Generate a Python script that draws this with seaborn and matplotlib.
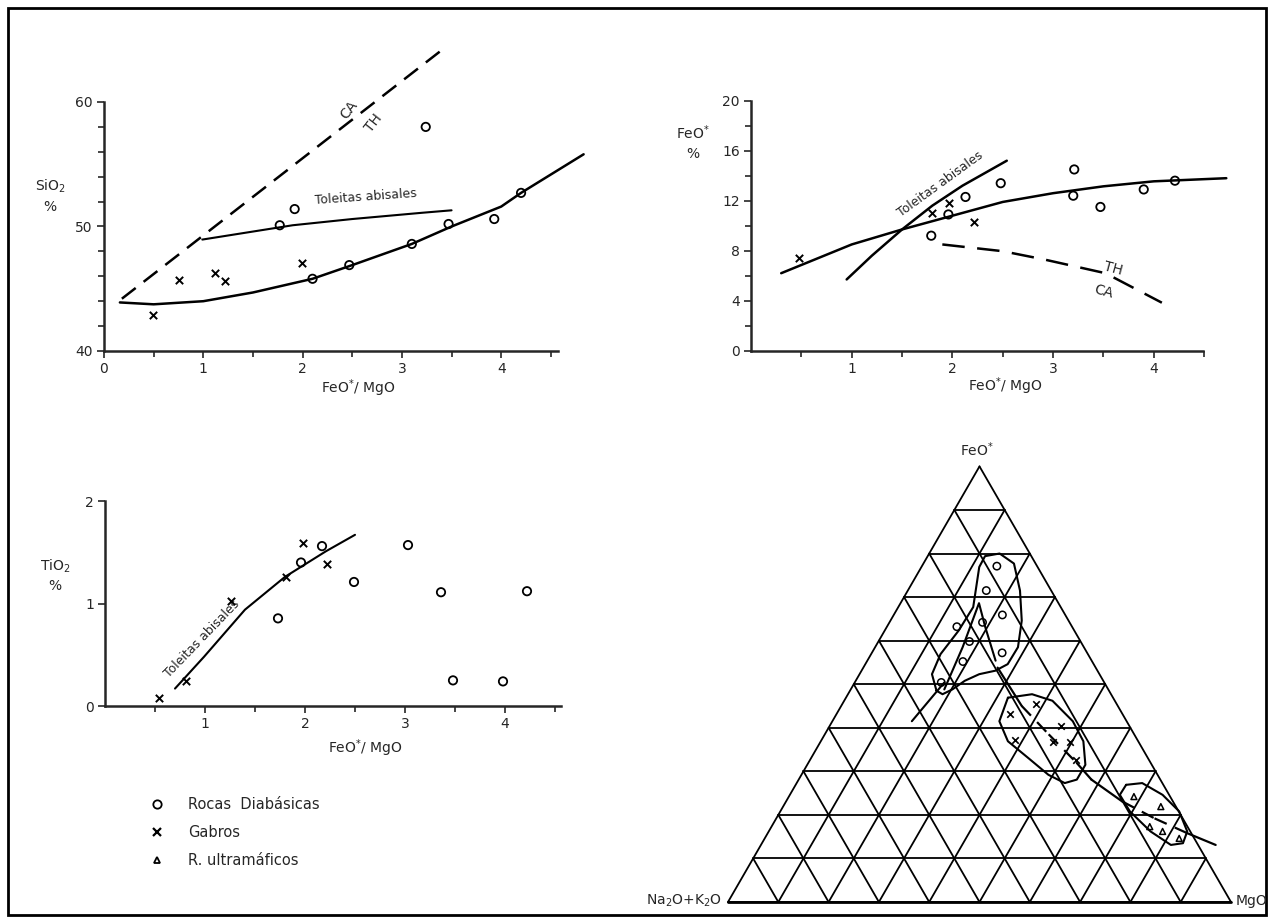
import numpy as np
import matplotlib
matplotlib.use("Agg")
import matplotlib.pyplot as plt
from matplotlib.lines import Line2D
from matplotlib.patches import Rectangle
import seaborn as sns

# ---------------- data ----------------
# SiO2 vs FeO*/MgO
si_circ_x = [1.77, 1.92, 2.10, 2.47, 3.10, 3.24, 3.47, 3.93, 4.20]
si_circ_y = [50.1, 51.4, 45.8, 46.9, 48.6, 58.0, 50.2, 50.6, 52.7]
si_cross_x = [0.49, 0.76, 1.12, 1.22, 1.99]
si_cross_y = [42.9, 45.7, 46.3, 45.6, 47.1]
si_trend_x = [0.16, 0.5, 1.0, 1.5, 2.1, 2.5, 3.1, 3.5, 4.0, 4.2, 4.83]
si_trend_y = [43.9, 43.75, 44.0, 44.7, 45.8, 46.9, 48.6, 50.0, 51.6, 52.7, 55.8]
si_tol_x = [0.99, 1.9, 2.5, 3.2, 3.5]
si_tol_y = [48.95, 50.1, 50.6, 51.1, 51.3]
si_cath_x = [0.18, 3.39]
si_cath_y = [44.2, 64.1]

# FeO* vs FeO*/MgO
fe_circ_x = [1.79, 1.96, 2.13, 2.48, 3.21, 3.20, 3.47, 3.90, 4.21]
fe_circ_y = [9.2, 10.9, 12.3, 13.4, 14.5, 12.4, 11.5, 12.9, 13.6]
fe_cross_x = [0.48, 1.80, 1.97, 2.21]
fe_cross_y = [7.4, 11.05, 11.85, 10.3]
fe_trend_x = [0.30, 1.0, 1.5, 2.0, 2.5, 3.0, 3.5, 4.0, 4.72]
fe_trend_y = [6.2, 8.5, 9.7, 10.8, 11.9, 12.6, 13.15, 13.55, 13.8]
fe_tol_x = [0.95, 1.2, 1.5, 1.8, 2.1, 2.54]
fe_tol_y = [5.7, 7.6, 9.7, 11.6, 13.2, 15.2]
fe_cath_x = [1.9, 2.5, 2.91, 3.52, 4.08]
fe_cath_y = [8.5, 7.96, 7.3, 6.2, 3.84]

# TiO2 vs FeO*/MgO
ti_circ_x = [1.73, 1.96, 2.17, 2.49, 3.03, 3.36, 3.48, 3.98, 4.22]
ti_circ_y = [0.855, 1.40, 1.56, 1.21, 1.57, 1.11, 0.25, 0.24, 1.12]
ti_cross_x = [0.54, 0.81, 1.26, 1.81, 1.98, 2.22]
ti_cross_y = [0.075, 0.24, 1.02, 1.26, 1.59, 1.39]
ti_trend_x = [0.70, 0.99, 1.40, 1.80, 2.21, 2.50]
ti_trend_y = [0.17, 0.48, 0.94, 1.26, 1.51, 1.67]

# AFM ternary (FeO* %, MgO %; Na2O+K2O = rest)
afm_circ_fe = [77.1, 71.5, 65.9, 63.2, 64.2, 59.8, 57.2, 55.2, 50.4]
afm_circ_mg = [14.9, 15.6, 21.6, 13.9, 18.5, 18.1, 25.9, 19.1, 17.2]
afm_cross_fe = [43.1, 45.5, 40.5, 37.1, 36.7, 36.7, 32.7]
afm_cross_mg = [34.5, 38.5, 45.9, 38.5, 46.3, 49.6, 52.9]
afm_tri_fe = [24.2, 21.9, 17.3, 16.2, 14.6]
afm_tri_mg = [68.6, 75.1, 75.2, 78.3, 82.4]

diab_fe = [48.5, 52.3, 56.9, 62.3, 67.7, 76.9, 79.4, 80.0, 77.7, 71.5, 64.6,
           58.5, 54.6, 53.1, 52.3, 50.8, 48.8, 47.7, 48.5]
diab_mg = [17.2, 14.4, 13.8, 14.7, 14.9, 11.5, 11.4, 14.0, 18.0, 22.3, 26.1,
           28.4, 28.3, 26.6, 23.8, 21.7, 20.2, 18.8, 17.2]
spike_fe = [48.8, 58.5, 68.6, 63.1, 55.4]
spike_mg = [18.6, 17.4, 15.6, 19.6, 25.5]
tail_fe = [41.5, 50.4]
tail_mg = [15.8, 17.8]
gab_fe = [46.9, 47.7, 46.2, 41.5, 36.9, 31.5, 28.1, 27.3, 29.2, 33.1, 36.9, 41.5, 46.9]
gab_mg = [32.2, 36.6, 41.4, 47.8, 52.2, 55.3, 55.3, 53.3, 49.1, 43.1, 37.2, 33.2, 32.2]
ult_fe = [26.9, 27.3, 24.6, 20.8, 16.2, 13.5, 13.1, 16.2, 20.8, 24.6, 26.9]
ult_mg = [65.7, 68.7, 74.1, 79.3, 83.2, 83.7, 81.5, 75.9, 69.5, 65.6, 65.7]
# trend line: solid outside the groups, dashed inside the gabbro / ultramafic fields
trend_fe = [53.8, 45.0, 38.5, 31.9, 28.1, 23.1, 19.2, 15.8, 13.1]
trend_mg = [26.7, 35.9, 44.5, 53.4, 58.2, 66.8, 75.2, 83.4, 90.4]
trend_dashed = [False, True, True, False, False, True, True, False]

legend_labels = ["Rocas  Diabásicas", "Gabros", "R. ultramáficos"]

# ---------------- style ----------------
sns.set_style("ticks")
plt.rcParams["font.family"] = ["DejaVu Sans"]
plt.rcParams["mathtext.fontset"] = "dejavusans"

W, H = 1272, 922
fig = plt.figure(figsize=(W / 100, H / 100), dpi=100)
fig.patch.set_facecolor("white")


def fx(p):
    return p / W


def fy(p):
    return 1 - p / H


def add_panel(x0, y0, ux, uy, xlim, ylim):
    w = (xlim[1] - xlim[0]) * ux
    h = (ylim[1] - ylim[0]) * uy
    ax = fig.add_axes([fx(x0), fy(y0), w / W, h / H])
    ax.set_xlim(*xlim)
    ax.set_ylim(*ylim)
    ax.patch.set_alpha(0)
    for s in ["top", "right"]:
        ax.spines[s].set_visible(False)
    for s in ["left", "bottom"]:
        ax.spines[s].set_linewidth(1.8)
    ax.tick_params(which="both", direction="out", width=1.2, labelsize=10, pad=3)
    ax.tick_params(which="major", length=5)
    ax.tick_params(which="minor", length=4)
    return ax


LW = 1.8
DASH = (0, (7, 4))


def draw_points(ax, cx, cy, xx, xy):
    sns.scatterplot(x=cx, y=cy, marker="o", s=36, facecolors="none",
                    edgecolors="black", linewidth=1.3, ax=ax, zorder=5, clip_on=False)
    sns.scatterplot(x=xx, y=xy, marker="x", s=28, color="black",
                    linewidth=1.4, ax=ax, zorder=5, clip_on=False)


# ---- panel 1: SiO2 ----
ax1 = add_panel(104, 351, 99.3, 12.45, (0, 4.9), (40, 65))
ax1.spines["left"].set_bounds(40, 60)
ax1.spines["bottom"].set_bounds(0, 4.57)
ax1.set_xticks([0, 1, 2, 3, 4])
ax1.set_xticks([0.5, 1.5, 2.5, 3.5, 4.5], minor=True)
ax1.set_yticks([40, 50, 60])
ax1.set_yticks(np.arange(42, 60, 2), minor=True)
sns.lineplot(x=si_trend_x, y=si_trend_y, sort=False, estimator=None,
             color="black", lw=LW, ax=ax1)
sns.lineplot(x=si_tol_x, y=si_tol_y, sort=False, estimator=None,
             color="black", lw=1.5, ax=ax1)
sns.lineplot(x=si_cath_x, y=si_cath_y, sort=False, estimator=None,
             color="black", lw=LW, linestyle=DASH, ax=ax1)
draw_points(ax1, si_circ_x, si_circ_y, si_cross_x, si_cross_y)
ax1.text(2.12, 51.6, "Toleitas abisales", fontsize=9, rotation=4,
         ha="left", va="bottom")
ax1.text(2.47, 59.4, "CA", fontsize=10, rotation=52, ha="center", va="center")
ax1.text(2.72, 58.3, "TH", fontsize=10, rotation=52, ha="center", va="center")

# ---- panel 2: FeO* ----
ax2 = add_panel(751, 350.7, 100.7, 12.5, (0, 4.8), (0, 20))
ax2.spines["left"].set_bounds(0, 20)
ax2.spines["bottom"].set_bounds(0, 4.49)
ax2.set_xticks([1, 2, 3, 4])
ax2.set_xticks([0.5, 1.5, 2.5, 3.5, 4.5], minor=True)
ax2.set_yticks([0, 4, 8, 12, 16, 20])
ax2.set_yticks([2, 6, 10, 14, 18], minor=True)
sns.lineplot(x=fe_trend_x, y=fe_trend_y, sort=False, estimator=None,
             color="black", lw=LW, ax=ax2)
sns.lineplot(x=fe_tol_x, y=fe_tol_y, sort=False, estimator=None,
             color="black", lw=LW, ax=ax2)
sns.lineplot(x=fe_cath_x, y=fe_cath_y, sort=False, estimator=None,
             color="black", lw=LW, linestyle=(0, (9, 5)), ax=ax2)
draw_points(ax2, fe_circ_x, fe_circ_y, fe_cross_x, fe_cross_y)
ax2.text(1.88, 13.3, "Toleitas abisales", fontsize=9, rotation=36,
         ha="center", va="center")
ax2.text(3.6, 6.6, "TH", fontsize=10, rotation=-15, ha="center", va="center")
ax2.text(3.5, 4.7, "CA", fontsize=10, rotation=-15, ha="center", va="center")

# ---- panel 3: TiO2 ----
ax3 = add_panel(105, 706, 100, 102.5, (0, 4.6), (0, 2))
ax3.spines["left"].set_bounds(0, 2)
ax3.spines["bottom"].set_bounds(0, 4.56)
ax3.set_xticks([1, 2, 3, 4])
ax3.set_xticks([0.5, 1.5, 2.5, 3.5, 4.5], minor=True)
ax3.set_yticks([0, 1, 2])
sns.lineplot(x=ti_trend_x, y=ti_trend_y, sort=False, estimator=None,
             color="black", lw=1.5, ax=ax3)
draw_points(ax3, ti_circ_x, ti_circ_y, ti_cross_x, ti_cross_y)
ax3.text(0.97, 0.66, "Toleitas abisales", fontsize=9, rotation=46,
         ha="center", va="center")

# axis titles
for x, y, s in [(50, 186, "SiO$_2$"), (50, 207, "%"),
                (693, 133, "FeO$^{*}$"), (693, 154, "%"),
                (55, 566, "TiO$_2$"), (55, 586, "%")]:
    fig.text(fx(x), fy(y), s, fontsize=10, ha="center", va="center")
for x, y in [(358, 388), (1005, 386), (365, 748)]:
    fig.text(fx(x), fy(y), "FeO$^{*}$/ MgO", fontsize=10, ha="center", va="center")

# ---- panel 4: AFM ternary ----
axt = fig.add_axes([fx(728), fy(902), 503 / W, 435.6 / H])
axt.set_xlim(0, 1)
axt.set_ylim(0, np.sqrt(3) / 2)
axt.axis("off")
r3 = np.sqrt(3) / 2


def tern(fe, mg):
    f = np.asarray(fe) / 100.0
    m = np.asarray(mg) / 100.0
    return m + f / 2, f * r3


# triangle frame and 10 % grid
for i in range(0, 11):
    t = i / 10
    if i < 10:
        x, y = tern([100 * t, 100 * t], [0, 100 * (1 - t)])
        axt.plot(x, y, color="black", lw=1.3, clip_on=False)
    x, y = tern([0, 100 * (1 - t)], [100 * t, 100 * t])
    axt.plot(x, y, color="black", lw=1.3, clip_on=False)
    x, y = tern([0, 100 * (1 - t)], [100 * (1 - t), 0])
    axt.plot(x, y, color="black", lw=1.3, clip_on=False)
x, y = tern([0, 0], [0, 100])
axt.plot(x, y, color="black", lw=2.0, clip_on=False)

for fe, mg in [(diab_fe, diab_mg), (spike_fe, spike_mg), (tail_fe, tail_mg),
               (gab_fe, gab_mg), (ult_fe, ult_mg)]:
    x, y = tern(fe, mg)
    sns.lineplot(x=x, y=y, sort=False, estimator=None, color="black",
                 lw=1.5, ax=axt, clip_on=False)

tx, ty = tern(trend_fe, trend_mg)
for k, dashed in enumerate(trend_dashed):
    sns.lineplot(x=tx[k:k + 2], y=ty[k:k + 2], sort=False, estimator=None,
                 color="black", lw=1.6, ax=axt, clip_on=False,
                 linestyle=(0, (6, 4)) if dashed else "-")

x, y = tern(afm_circ_fe, afm_circ_mg)
sns.scatterplot(x=x, y=y, marker="o", s=28, facecolors="none",
                edgecolors="black", linewidth=1.1, ax=axt, zorder=5, clip_on=False)
x, y = tern(afm_cross_fe, afm_cross_mg)
sns.scatterplot(x=x, y=y, marker="x", s=22, color="black",
                linewidth=1.2, ax=axt, zorder=5, clip_on=False)
x, y = tern(afm_tri_fe, afm_tri_mg)
sns.scatterplot(x=x, y=y, marker="^", s=18, facecolors="none",
                edgecolors="black", linewidth=1.1, ax=axt, zorder=5, clip_on=False)

fig.text(fx(977), fy(450), "FeO$^{*}$", fontsize=10, ha="center", va="center")
fig.text(fx(722), fy(901), "Na$_2$O+K$_2$O", fontsize=10, ha="right", va="center")
fig.text(fx(1236), fy(901), "MgO", fontsize=10, ha="left", va="center")

# ---- legend ----
handles = [
    Line2D([], [], marker="o", linestyle="none", markerfacecolor="none",
           markeredgecolor="black", markersize=6, markeredgewidth=1.3),
    Line2D([], [], marker="x", linestyle="none", color="black",
           markersize=6, markeredgewidth=1.6),
    Line2D([], [], marker="^", linestyle="none", markerfacecolor="none",
           markeredgecolor="black", markersize=5, markeredgewidth=1.3),
]
fig.legend(handles, legend_labels, loc="upper left",
           bbox_to_anchor=(fx(150), fy(797)), frameon=False, fontsize=10.5,
           handlelength=1.0, handletextpad=1.6, labelspacing=0.9,
           borderpad=0, borderaxespad=0)

# outer frame
fig.add_artist(Rectangle((fx(8), fy(915)), (1266 - 8) / W, (915 - 8) / H,
                         transform=fig.transFigure, fill=False, lw=2,
                         edgecolor="black"))

fig.savefig("out.png", dpi=100, facecolor="white")
